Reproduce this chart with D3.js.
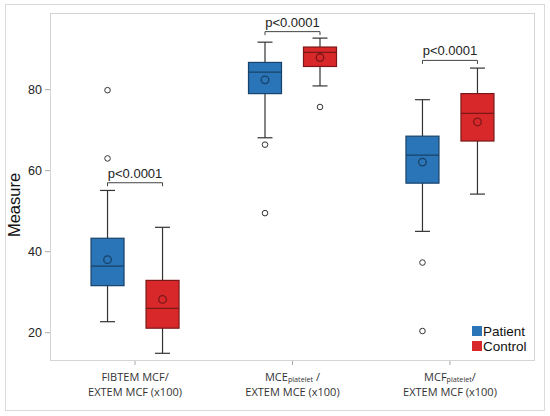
<!DOCTYPE html>
<html><head><meta charset="utf-8">
<script src="https://cdn.jsdelivr.net/npm/d3@7"></script>
<style>body{margin:0;background:#fff;}svg{display:block;font-family:"Liberation Sans",Arial,sans-serif;}</style>
</head><body><div id="chart"></div>
<script>
const groups = ["g1", "g2", "g3"];
const series = ["Patient", "Control"];
const seriesColors = ["#2a74b8", "#d9282a"];
const yTicks = [20, 40, 60, 80];
// [whiskerLow, q1, median, q3, whiskerHigh]
const patientBox = [[22.6, 31.5, 36.3, 43.2, 55.0], [68.0, 78.9, 84.2, 86.6, 91.6], [44.9, 56.8, 63.7, 68.4, 77.4]];
const patientMean = [37.9, 82.3, 62.0];
const patientOutliers = [[79.75, 62.9], [66.3, 49.4], [37.2, 20.3]];
const controlBox = [[14.8, 21.0, 25.9, 32.8, 45.9], [80.8, 85.6, 89.1, 90.4, 92.6], [54.1, 67.2, 74.0, 78.9, 85.2]];
const controlMean = [28.1, 87.8, 71.9];
const controlOutliers = [[], [75.6], []];
const pLabels = ["p<0.0001", "p<0.0001", "p<0.0001"];
const bracketLevels = [56.9, 94.2, 87.1];
const xLabels = [
  [[{t: "FIBTEM MCF/"}], [{t: "EXTEM MCF (x100)"}]],
  [[{t: "MCE"}, {t: "platelet", sub: true}, {t: " /"}], [{t: "EXTEM MCE (x100)"}]],
  [[{t: "MCF"}, {t: "platelet", sub: true}, {t: "/"}], [{t: "EXTEM MCF (x100)"}]]
];
const yLabel = "Measure";

const W = 550, H = 416;
const L = 50, R = 535, T = 13, B = 361;
const svg = d3.select("#chart").append("svg").attr("width", W).attr("height", H);

svg.append("rect").attr("x", 5.5).attr("y", 4.5).attr("width", 539).attr("height", 406)
  .attr("fill", "#fff").attr("stroke", "#dadada").attr("stroke-width", 1);
svg.append("rect").attr("x", L + 0.5).attr("y", T + 0.5).attr("width", R - L - 1).attr("height", B - T - 1)
  .attr("fill", "none").attr("stroke", "#d4d4d4").attr("stroke-width", 1);

const y = d3.scaleLinear().domain([12.9, 98.8]).range([B, T]);
const x = d3.scaleBand().domain(groups).range([L, R]).paddingInner(0).paddingOuter(0.04);
const xs = d3.scalePoint().domain(series).range([-27.5, 27.5]);
const cx = (g, s) => x(g) + x.bandwidth() / 2 + xs(s);
const boxW = 33, capW = 15;

// Y axis
const yAxis = svg.append("g").attr("transform", `translate(${L},0)`)
  .call(d3.axisLeft(y).tickValues(yTicks).tickSize(5).tickPadding(3));
yAxis.select(".domain").remove();
yAxis.selectAll(".tick line").attr("stroke", "#aaa");
yAxis.selectAll(".tick text").attr("font-size", 12.5).attr("fill", "#222").attr("font-family", "Liberation Sans, Arial, sans-serif");

// X axis
const xAxis = svg.append("g").attr("transform", `translate(0,${B})`)
  .call(d3.axisBottom(x).tickSize(4).tickFormat(""));
xAxis.select(".domain").remove();
xAxis.selectAll(".tick line").attr("stroke", "#aaa");
groups.forEach((g, i) => {
  const cxg = x(g) + x.bandwidth() / 2;
  xLabels[i].forEach((line, li) => {
    const t = svg.append("text").attr("x", cxg).attr("y", li === 0 ? 380.5 : 395.5)
      .attr("text-anchor", "middle").attr("font-size", 11).attr("fill", "#333")
      .style("font-family", "'Open Sans', sans-serif");
    line.forEach(part => {
      const ts = t.append("tspan").text(part.t);
      if (part.sub) ts.attr("font-size", 7.2).attr("dy", 1.5);
      else if (line.some(p => p.sub) && part !== line[0]) ts.attr("dy", -1.5);
    });
  });
});

// Y label
svg.append("text").attr("transform", "translate(20,205) rotate(-90)")
  .attr("text-anchor", "middle").attr("font-size", 16.5).attr("fill", "#111").text(yLabel);

// Boxes
const allBox = [patientBox, controlBox];
const allMean = [patientMean, controlMean];
const allOut = [patientOutliers, controlOutliers];
series.forEach((s, si) => {
  const fill = seriesColors[si];
  const edge = d3.color(fill).darker(1.6).toString();
  groups.forEach((g, gi) => {
    const [lo, q1, med, q3, hi] = allBox[si][gi];
    const c = cx(g, s);
    const gg = svg.append("g");
    gg.append("line").attr("x1", c).attr("x2", c).attr("y1", y(hi)).attr("y2", y(lo))
      .attr("stroke", "#333").attr("stroke-width", 1.2);
    [lo, hi].forEach(v => gg.append("line").attr("x1", c - capW / 2).attr("x2", c + capW / 2)
      .attr("y1", y(v)).attr("y2", y(v)).attr("stroke", "#333").attr("stroke-width", 1.2));
    gg.append("rect").attr("x", c - boxW / 2).attr("y", y(q3)).attr("width", boxW).attr("height", y(q1) - y(q3))
      .attr("fill", fill).attr("stroke", edge).attr("stroke-width", 1.2);
    gg.append("line").attr("x1", c - boxW / 2).attr("x2", c + boxW / 2).attr("y1", y(med)).attr("y2", y(med))
      .attr("stroke", edge).attr("stroke-width", 1.2);
    gg.append("circle").attr("cx", c).attr("cy", y(allMean[si][gi])).attr("r", 3.8)
      .attr("fill", "none").attr("stroke", edge).attr("stroke-width", 1.3);
    allOut[si][gi].forEach(v => gg.append("circle").attr("cx", c).attr("cy", y(v)).attr("r", 2.8)
      .attr("fill", "#fff").attr("stroke", "#333").attr("stroke-width", 1));
  });
});

// Brackets
groups.forEach((g, gi) => {
  const x1 = cx(g, series[0]), x2 = cx(g, series[1]), yy = y(bracketLevels[gi]);
  svg.append("path").attr("d", `M${x1},${yy + 3.5}V${yy}H${x2}V${yy + 3.5}`)
    .attr("fill", "none").attr("stroke", "#444").attr("stroke-width", 1);
  svg.append("text").attr("x", (x1 + x2) / 2).attr("y", yy - 5).attr("text-anchor", "middle")
    .attr("font-size", 13).attr("fill", "#222").text(pLabels[gi]);
});

// Legend
series.forEach((s, si) => {
  svg.append("rect").attr("x", 472).attr("y", 326 + si * 15).attr("width", 10).attr("height", 10)
    .attr("fill", seriesColors[si]);
  svg.append("text").attr("x", 483).attr("y", 335.5 + si * 15).attr("font-size", 13.5).attr("fill", "#111").text(s);
});
</script></body></html>
